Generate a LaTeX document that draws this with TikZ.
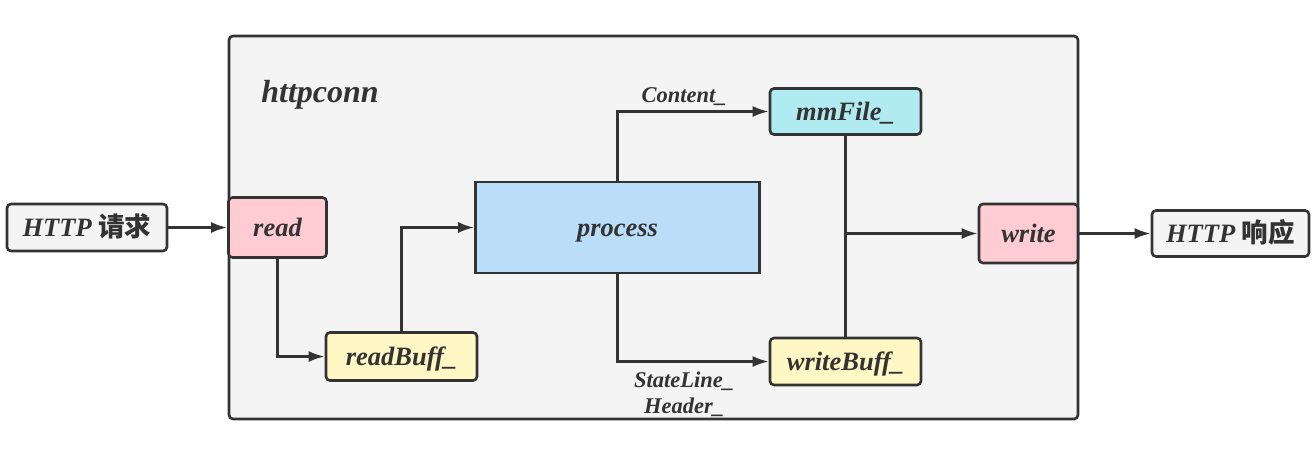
\documentclass[tikz,border=0pt]{standalone}
\usepackage{fontspec}
\setmainfont{Liberation Serif}
\newfontfamily\cjk{Noto Sans CJK SC}
\usetikzlibrary{arrows.meta}
\definecolor{ink}{HTML}{333333}
\definecolor{panel}{HTML}{F4F4F4}
\definecolor{rosefill}{HTML}{FFCCD3}
\definecolor{lemonfill}{HTML}{FFF8C4}
\definecolor{skyfill}{HTML}{BADEFA}
\definecolor{aquafill}{HTML}{B0EBF1}
\begin{document}
\begin{tikzpicture}[x=1pt,y=-1pt,
    box/.style={draw=ink,line width=2.6pt,rounded corners=4pt,text=ink,inner sep=0pt,
      text height=20.5pt,text depth=3.5pt,
      font=\fontsize{26.5}{30}\selectfont\bfseries\itshape},
    link/.style={draw=ink,line width=2.6pt,-{Latex[length=16pt,width=11pt]}},
    tag/.style={text=ink,inner sep=2pt,align=center,
      font=\fontsize{22.5}{26}\selectfont\bfseries\itshape}]
  \useasboundingbox (0,0) rectangle (1316,456);
  \node[box,fill=panel,minimum width=849pt,minimum height=383pt] (conn) at (653.5,227.5) {};
  \node[text=ink,font=\fontsize{32}{36}\selectfont\bfseries\itshape] (title) at (320,95) {httpconn};
  \node[box,fill=panel,minimum width=160pt,minimum height=47pt] (req) at (87,227.5) {HTTP {\cjk 请求}};
  \node[box,fill=rosefill,minimum width=98pt,minimum height=60pt] (read) at (277.5,227.5) {read};
  \node[box,fill=lemonfill,minimum width=151pt,minimum height=48pt] (readBuff) at (401.5,356.5) {readBuff\_};
  \node[box,fill=skyfill,rounded corners=0pt,minimum width=284pt,minimum height=91pt] (process) at (617.5,227.5) {process};
  \node[box,fill=aquafill,minimum width=151pt,minimum height=46pt] (mmFile) at (845.5,111.5) {mmFile\_};
  \node[box,fill=lemonfill,minimum width=151pt,minimum height=47pt] (writeBuff) at (845.5,361.5) {writeBuff\_};
  \node[box,fill=rosefill,minimum width=99pt,minimum height=59pt] (write) at (1028.5,233.5) {write};
  \node[box,fill=panel,minimum width=157pt,minimum height=46pt] (rsp) at (1230.5,233.5) {HTTP {\cjk 响应}};

  \draw[link] (req.east) -- (read.west);
  \draw[link] (read.south) |- (readBuff.west);
  \draw[link] (readBuff.north) |- (process.west);
  \draw[link] (process.north) |- (mmFile.west) node[tag,pos=0.72,above=3pt] (lblcontent) {Content\_};
  \draw[link] (process.south) |- (writeBuff.west) node[tag,pos=0.72,below=7pt] (lblhead) {StateLine\_\\Header\_};
  \draw[draw=ink,line width=2.6pt] (mmFile.south) -- (writeBuff.north);
  \coordinate (tap) at (mmFile.south |- write.west);
  \draw[link] (tap) -- (write.west);
  \draw[link] (write.east) -- (rsp.west);
\end{tikzpicture}
\end{document}
